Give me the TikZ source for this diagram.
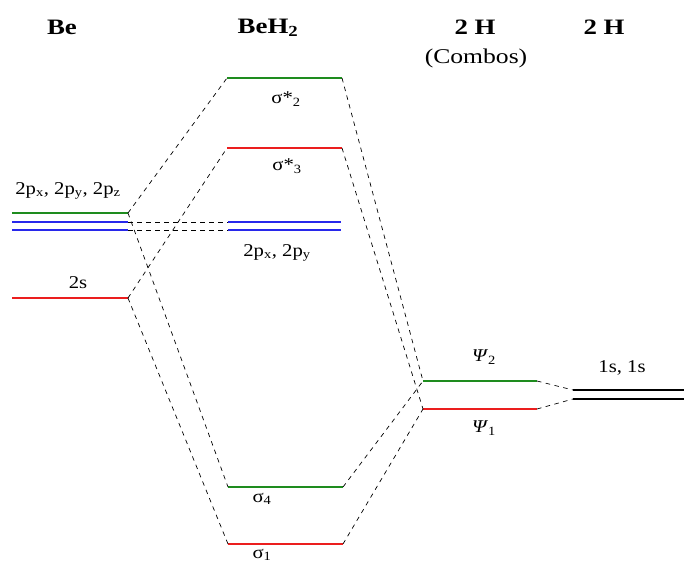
\documentclass[tikz,border=0pt]{standalone}
\usepackage{fontspec}
\setmainfont{Liberation Serif}
\newfontfamily\headfont{Liberation Serif}[FakeStretch=1.22]
\newfontfamily\labfont{Liberation Serif}[FakeStretch=1.15]
\begin{document}
\begin{tikzpicture}[x=1pt,y=-1pt,
  lvl/.style={line width=1.7pt},
  conn/.style={line width=0.7pt,dash pattern=on 4.5pt off 4.5pt},
  lab/.style={font=\labfont\fontsize{18}{20}\selectfont,inner sep=0pt},
  comb/.style={font=\headfont\fontsize{21}{23}\selectfont,inner sep=0pt},
  head/.style={font=\headfont\fontsize{22}{24}\selectfont\bfseries,inner sep=0pt}]
\useasboundingbox (0,0) rectangle (684,562);
\definecolor{lg}{RGB}{30,140,30}
\definecolor{lr}{RGB}{235,30,30}
\definecolor{lb}{RGB}{40,40,235}
% Be levels
\coordinate (bpzL) at (12,213); \coordinate (bpzR) at (128,213);
\coordinate (bpyL) at (12,222); \coordinate (bpyR) at (128,222);
\coordinate (bpxL) at (12,230); \coordinate (bpxR) at (128,230);
\coordinate (bsL) at (12,298);  \coordinate (bsR) at (128,298);
% BeH2 levels
\coordinate (s2L) at (227,78);  \coordinate (s2R) at (342,78);
\coordinate (s3L) at (227,148); \coordinate (s3R) at (342,148);
\coordinate (pyL) at (228,222); \coordinate (pyR) at (341,222);
\coordinate (pxL) at (228,230); \coordinate (pxR) at (341,230);
\coordinate (s4L) at (228,487); \coordinate (s4R) at (343,487);
\coordinate (s1L) at (228,544); \coordinate (s1R) at (343,544);
% combos
\coordinate (p2L) at (423,381); \coordinate (p2R) at (537,381);
\coordinate (p1L) at (423,409); \coordinate (p1R) at (537,409);
% H
\coordinate (h1L) at (573,390); \coordinate (h1R) at (684,390);
\coordinate (h2L) at (573,399); \coordinate (h2R) at (684,399);

\draw[lvl,lg] (bpzL) -- (bpzR);
\draw[lvl,lb] (bpyL) -- (bpyR);
\draw[lvl,lb] (bpxL) -- (bpxR);
\draw[lvl,lr] (bsL) -- (bsR);
\draw[lvl,lg] (s2L) -- (s2R);
\draw[lvl,lr] (s3L) -- (s3R);
\draw[lvl,lb] (pyL) -- (pyR);
\draw[lvl,lb] (pxL) -- (pxR);
\draw[lvl,lg] (s4L) -- (s4R);
\draw[lvl,lr] (s1L) -- (s1R);
\draw[lvl,lg] (p2L) -- (p2R);
\draw[lvl,lr] (p1L) -- (p1R);
\draw[lvl,black] (h1L) -- (h1R);
\draw[lvl,black] (h2L) -- (h2R);

% connectors
\draw[conn] (bpzR) -- (s2L);
\draw[conn] (bsR) -- (s3L);
\draw[conn] (bpyR) -- (pyL);
\draw[conn] (bpxR) -- (pxL);
\draw[conn] (bpzR) -- (s4L);
\draw[conn] (bsR) -- (s1L);
\draw[conn] (s2R) -- (p2L);
\draw[conn] (s3R) -- (p1L);
\draw[conn] (s4R) -- (p2L);
\draw[conn] (s1R) -- (p1L);
\draw[conn] (p2R) -- (h1L);
\draw[conn] (p1R) -- (h2L);

% headings
\node[head] (tBe) at (62,27) {Be};
\node[head] (tBeH) at (268,28) {BeH\textsubscript{2}};
\node[head] (tH1) at (475,27) {2 H};
\node[comb] (tcomb) at (476,58) {(Combos)};
\node[head] (tH2) at (604,27) {2 H};
% labels
\node[lab] (l2p) at (68,191) {2p\textsubscript{x}, 2p\textsubscript{y}, 2p\textsubscript{z}};
\node[lab] (l2s) at (78,283) {2s};
\node[lab] (ls2) at (286,99) {σ*\textsubscript{2}};
\node[lab] (ls3) at (287,166) {σ*\textsubscript{3}};
\node[lab] (l2pb) at (277,253) {2p\textsubscript{x}, 2p\textsubscript{y}};
\node[lab] (lp2) at (484,357) {\textit{Ψ}\textsubscript{2}};
\node[lab] (lp1) at (484,428) {\textit{Ψ}\textsubscript{1}};
\node[lab] (l1s) at (622,368) {1s, 1s};
\node[lab] (ls4) at (262,499) {σ\textsubscript{4}};
\node[lab,anchor=south] (ls1) at (262,561) {σ\textsubscript{1}};
\end{tikzpicture}
\end{document}
